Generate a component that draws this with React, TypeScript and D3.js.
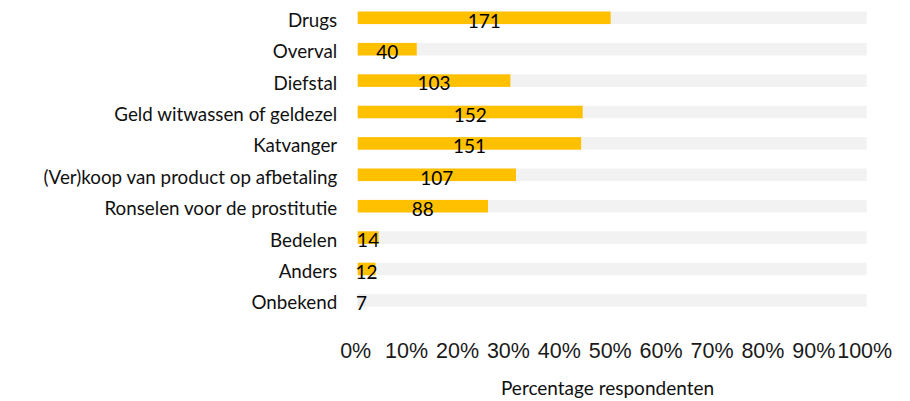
import React from "react";
import * as d3 from "d3";

const categories = [
  "Drugs",
  "Overval",
  "Diefstal",
  "Geld witwassen of geldezel",
  "Katvanger",
  "(Ver)koop van product op afbetaling",
  "Ronselen voor de prostitutie",
  "Bedelen",
  "Anders",
  "Onbekend",
];
const counts = [171, 40, 103, 152, 151, 107, 88, 14, 12, 7];
const percentages = [49.7, 11.6, 30.0, 44.2, 43.9, 31.1, 25.6, 4.1, 3.5, 1.5];
const tickValues = [0, 10, 20, 30, 40, 50, 60, 70, 80, 90, 100];
const axisTitle = "Percentage respondenten";

const W = 910;
const H = 401;

export default function App() {
  const x = d3.scaleLinear().domain([0, 100]).range([357.7, 866.7]);
  const y = d3
    .scaleBand<string>()
    .domain(categories)
    .range([2.1, 316.1])
    .paddingInner(0.6)
    .paddingOuter(0.3);
  const bw = y.bandwidth();
  const labelFont = "Lato, 'Open Sans', sans-serif";

  return (
    <svg
      width={W}
      height={H}
      style={{ position: "absolute", left: 0, top: 0, background: "#fff" }}
    >
      {categories.map((c, i) => {
        const y0 = y(c)!;
        const cy = y0 + bw / 2;
        const pct = percentages[i];
        const barColor = c === "Onbekend" ? "#EBEBEB" : "#FFC000";
        return (
          <g key={c}>
            <rect x={x(0)} y={y0} width={x(100) - x(0)} height={bw} fill="#F2F2F2" />
            <rect x={x(0)} y={y0} width={x(pct) - x(0)} height={bw} fill={barColor} />
            <text
              x={x(0) - 20.5}
              y={cy + 8.9}
              textAnchor="end"
              fontFamily={labelFont}
              fontSize={18.8}
              fill="#111"
            >
              {c}
            </text>
            <text
              x={(x(0) + x(pct)) / 2}
              y={cy + 9.7}
              textAnchor="middle"
              fontFamily={labelFont}
              fontSize={19}
              fill="#000"
            >
              {counts[i]}
            </text>
          </g>
        );
      })}
      {tickValues.map((t) => (
        <text
          key={t}
          x={x(t) - 2}
          y={358}
          textAnchor="middle"
          fontFamily="'Liberation Sans', Arial, sans-serif"
          fontSize={21.5}
          fill="#1a1a1a"
        >
          {t}%
        </text>
      ))}
      <text
        x={607.5}
        y={394.5}
        textAnchor="middle"
        fontFamily={labelFont}
        fontSize={19}
        fill="#111"
      >
        {axisTitle}
      </text>
    </svg>
  );
}
